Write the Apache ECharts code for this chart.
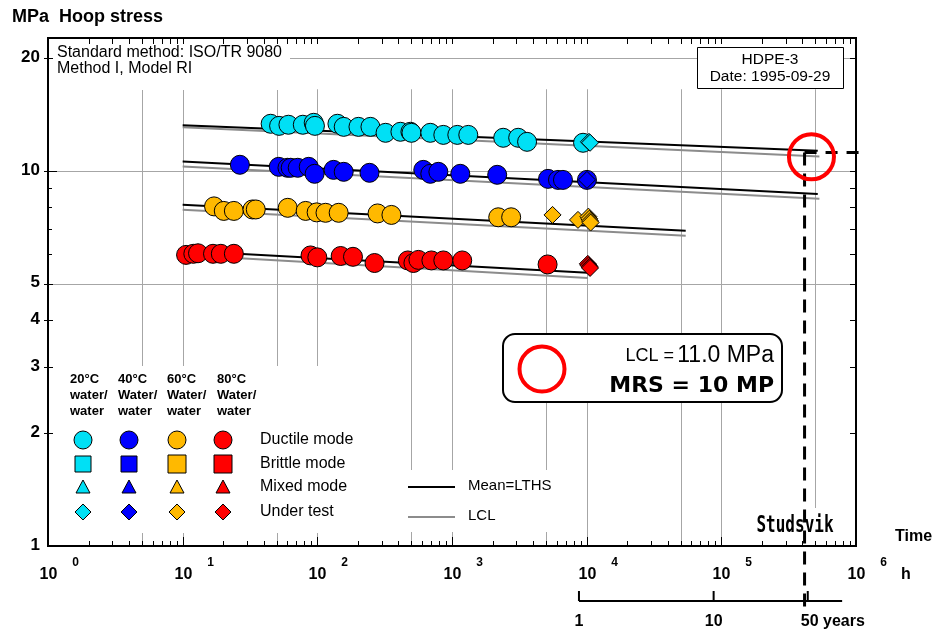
<!DOCTYPE html>
<html>
<head>
<meta charset="utf-8">
<script src="https://cdn.jsdelivr.net/npm/echarts/dist/echarts.min.js"></script>
<style>html,body{margin:0;padding:0;background:#fff}#c{width:938px;height:632px}</style>
</head>
<body>
<div id="c"></div>
<script>
// ---------------- DATA (hours, MPa) ----------------
const cyan20Ductile = [[45,13.35],[52,13.18],[61,13.27],[78,13.27],[94,13.43],[96,13.18],[141,13.35],[157,13.10],[202,13.10],[248,13.10],[321,12.63],[414,12.71],[491,12.71],[500,12.63],[690,12.63],[862,12.47],[1095,12.47],[1321,12.47],[2400,12.25],[3100,12.25],[3610,11.95],[9400,11.88]];
const cyan20Test = [[10400,11.95],[10600,11.88]];
const blue40Ductile = [[26.6,10.38],[51.7,10.25],[60,10.19],[63.4,10.19],[71.5,10.19],[86.3,10.25],[95.5,9.82],[132,10.06],[157,9.94],[244,9.88],[612,10.06],[690,9.82],[792,9.94],[1152,9.82],[2166,9.76],[5166,9.52],[6124,9.46],[6668,9.46],[10050,9.46]];
const blue40Test = [[10050,9.46]];
const orange60Ductile = [[17.1,8.04],[20.2,7.82],[24.0,7.82],[33,7.89],[34.9,7.89],[60.3,7.97],[81.9,7.82],[98.8,7.75],[115,7.73],[144,7.73],[280,7.70],[355,7.63],[2204,7.52],[2750,7.52]];
const orange60Test = [[5580,7.63],[8620,7.40],[10300,7.55],[10450,7.45],[10600,7.35],[10700,7.28]];
const red80Ductile = [[10.6,5.97],[12.0,6.01],[13.0,6.03],[16.8,6.01],[19.2,6.01],[24.0,6.01],[89,5.95],[100,5.88],[149,5.93],[184,5.90],[266,5.68],[470,5.77],[517,5.68],[563,5.79],[703,5.77],[862,5.77],[1191,5.77],[5126,5.63]];
const red80Test = [[10200,5.65],[10350,5.60],[10500,5.55],[10600,5.51]];

const mean20 = [[10,13.22],[5.2e5,11.31]];
const lcl20  = [[10,13.06],[5.35e5,10.92]];
const mean40 = [[10,10.59],[5.2e5,8.67]];
const lcl40  = [[10,10.27],[5.35e5,8.42]];
const mean60 = [[10,8.12],[5.44e4,6.92]];
const lcl60  = [[10,7.87],[5.44e4,6.71]];
const mean80 = [[10,6.12],[1.02e4,5.35]];
const lcl80  = [[10,5.97],[1.02e4,5.18]];

const designPoint = [4.15e5, 11.2];      // dashed cross (h, MPa)
const lclMarker = [4.67e5, 10.9];        // red circle (h, MPa)

const xDecades = [1,10,100,1000,10000,100000,1000000];
const xExponents = ['0','1','2','3','4','5','6'];
const xMinorMult = [2,3,4,5,6,7,8,9];
const xGridValues = [5,10,50,100,500,1000,5000,10000,50000,100000,500000];
const yGridValues = [5,10,20];
const yTickLabels = [1,2,3,4,5,10,20];
const yMinorTicks = [6,7,8,9];
const yRightTicks = [2,3,4,5,6,7,8,9,10,20];
const hoursPerYear = 8766;
const yearTicks = [1,10,50];
const yearTickLabels = ['1','10','50 years'];
const yearAxisEnd = 90;

const X_MIN = 1, X_MAX = 1e6, Y_MIN = 1, Y_MAX = 22.6, V_GRID_TOP = 16.5;

// ---------------- STYLE ----------------
const FONT = "'Liberation Sans', Arial, sans-serif";
const C_CYAN = '#00E0F5', C_BLUE = '#0000FF', C_ORANGE = '#FFB900', C_RED = '#FF0000';
const C_GRID = '#a6a6a6', C_LCL = '#8c8c8c';

function ductile(name, data, color){
  return {name, type:'scatter', data, symbol:'circle', symbolSize:19, z:6, silent:true,
    itemStyle:{color, borderColor:'#000', borderWidth:1, opacity:1}};
}
function underTest(name, data, color){
  return {name, type:'scatter', data, symbol:'diamond', symbolSize:17, z:7, silent:true,
    itemStyle:{color, borderColor:'#000', borderWidth:1, opacity:1}};
}
function regLine(name, data, color, z){
  return {name, type:'line', data, symbol:'none', z, silent:true, lineStyle:{color, width:2}};
}

const gridSeries = {
  type:'custom', z:1, silent:true, clip:false, data:[[1,1]],
  renderItem(params, api){
    const ch = [];
    xGridValues.forEach(v => {
      const a = api.coord([v, Y_MIN]), b = api.coord([v, V_GRID_TOP]);
      const x = Math.round(a[0]) + 0.5;
      ch.push({type:'line', shape:{x1:x, y1:a[1], x2:x, y2:b[1]}, style:{stroke:C_GRID, lineWidth:1}});
    });
    yGridValues.forEach(v => {
      const a = api.coord([X_MIN, v]), b = api.coord([X_MAX, v]);
      const y = Math.round(a[1]) + 0.5;
      ch.push({type:'line', shape:{x1:a[0], y1:y, x2:b[0], y2:y}, style:{stroke:C_GRID, lineWidth:1}});
    });
    return {type:'group', children:ch};
  }
};

const frameSeries = {
  type:'custom', z:20, silent:true, clip:false, data:[[1,1]],
  renderItem(params, api){
    const ch = [];
    const lb = api.coord([X_MIN, Y_MIN]), rt = api.coord([X_MAX, Y_MAX]);
    const L = lb[0], B = lb[1], R = rt[0], T = rt[1];
    const ln = (x1,y1,x2,y2,w,col) => ch.push({type:'line', shape:{x1,y1,x2,y2}, style:{stroke:col||'#000', lineWidth:w||1}});
    const tx = (text,x,y,font,align,va) => ch.push({type:'text', style:{text, x, y, font, fill:'#000', align:align||'center', verticalAlign:va||'middle'}});
    xDecades.forEach((d, i) => {
      const x = Math.round(api.coord([d, Y_MIN])[0]) + 0.5;
      if (i > 0 && i < xDecades.length - 1) { ln(x, B, x, B - 9); ln(x, T, x, T + 6); }
      tx('10', x, B + 29, 'bold 16px ' + FONT);
      tx(xExponents[i], x + 27, B + 17, 'bold 12px ' + FONT);
      if (i < xDecades.length - 1) {
        xMinorMult.forEach(m => {
          const xm = Math.round(api.coord([d * m, Y_MIN])[0]) + 0.5;
          ln(xm, B, xm, B - 5); ln(xm, T, xm, T + 6);
        });
      }
    });
    tx('h', R + 50, B + 29, 'bold 16px ' + FONT);
    yTickLabels.forEach(v => {
      const y = api.coord([X_MIN, v])[1];
      tx(String(v), L - 8, y - 1, 'bold 17px ' + FONT, 'right');
      if (v !== 1) ln(L - 4, Math.round(y) + 0.5, L + (v === 10 ? 9 : 5), Math.round(y) + 0.5);
    });
    yMinorTicks.forEach(v => {
      const y = Math.round(api.coord([X_MIN, v])[1]) + 0.5;
      ln(L, y, L + 4, y);
    });
    yRightTicks.forEach(v => {
      const y = Math.round(api.coord([X_MAX, v])[1]) + 0.5;
      ln(R - 6, y, R, y);
    });
    // years axis
    const yy = B + 55;
    const xs = api.coord([yearTicks[0] * hoursPerYear, Y_MIN])[0];
    const xe = api.coord([yearAxisEnd * hoursPerYear, Y_MIN])[0];
    ln(xs, yy, xe, yy, 2);
    yearTicks.forEach((yr, i) => {
      const x = api.coord([yr * hoursPerYear, Y_MIN])[0];
      ln(x, yy, x, yy - 10, 2);
      if (i === yearTicks.length - 1) tx(yearTickLabels[i], x - 7, B + 76, 'bold 16px ' + FONT, 'left');
      else tx(yearTickLabels[i], x, B + 76, 'bold 16px ' + FONT);
    });
    return {type:'group', children:ch};
  }
};

const designSeries = {
  type:'custom', z:8, silent:true, clip:false, data:[designPoint],
  renderItem(params, api){
    const p = api.coord([api.value(0), api.value(1)]);
    const bottom = api.coord([api.value(0), Y_MIN])[1] + 63;
    const right = api.coord([X_MAX, api.value(1)])[0] + 9;
    return {type:'group', children:[
      {type:'line', shape:{x1:p[0], y1:p[1], x2:p[0], y2:bottom}, style:{stroke:'#000', lineWidth:3, lineDash:[13,8]}},
      {type:'line', shape:{x1:p[0], y1:p[1], x2:right, y2:p[1]}, style:{stroke:'#000', lineWidth:3, lineDash:[12,9]}}
    ]};
  }
};

const markerSeries = {
  type:'custom', z:9, silent:true, clip:false, data:[lclMarker],
  renderItem(params, api){
    const p = api.coord([api.value(0), api.value(1)]);
    return {type:'circle', shape:{cx:p[0], cy:p[1], r:22.5}, style:{fill:'none', stroke:C_RED, lineWidth:4}};
  }
};

// ---------------- LEGEND / ANNOTATIONS ----------------
const colX = [83,129,177,223];
const headX = [70,118,167,217];
const headers = ['20°C\nwater/\nwater','40°C\nWater/\nwater','60°C\nWater/\nwater','80°C\nWater/\nwater'];
const colColors = [C_CYAN, C_BLUE, C_ORANGE, C_RED];
const rowY = [440,464,487,512];
const rowLabels = ['Ductile mode','Brittle mode','Mixed mode','Under test'];

const g = [];
g.push({type:'text', x:12, y:8, z:10, style:{text:'MPa  Hoop stress', font:'bold 18px ' + FONT, fill:'#000'}});
g.push({type:'rect', z:3, shape:{x:50, y:40, width:240, height:50}, style:{fill:'#fff'}});
g.push({type:'text', x:57, y:45, z:10, style:{text:'Standard method: ISO/TR 9080\nMethod I, Model RI', font:'16px ' + FONT, lineHeight:16, fill:'#000'}});
g.push({type:'rect', z:3, shape:{x:697.5, y:47.5, width:146, height:41}, style:{fill:'#fff', stroke:'#000', lineWidth:1}});
g.push({type:'text', x:770, y:51, z:10, style:{text:'HDPE-3\nDate: 1995-09-29', font:'15.5px ' + FONT, lineHeight:17, fill:'#000', align:'center'}});
// temperature legend
g.push({type:'rect', z:3, shape:{x:50, y:366, width:310, height:167}, style:{fill:'#fff'}});
headers.forEach((h, i) => g.push({type:'text', x:headX[i], y:371, z:10, style:{text:h, font:'bold 13px ' + FONT, lineHeight:16, fill:'#000'}}));
colColors.forEach((col, i) => {
  const cx = colX[i];
  const sq = i < 2 ? 8 : 9;
  g.push({type:'circle', z:10, shape:{cx, cy:rowY[0], r:9}, style:{fill:col, stroke:'#000', lineWidth:1}});
  g.push({type:'rect', z:10, shape:{x:cx - sq, y:rowY[1] - sq, width:2*sq, height:2*sq}, style:{fill:col, stroke:'#000', lineWidth:1}});
  g.push({type:'polygon', z:10, shape:{points:[[cx, rowY[2] - 7],[cx - 7, rowY[2] + 6],[cx + 7, rowY[2] + 6]]}, style:{fill:col, stroke:'#000', lineWidth:1}});
  g.push({type:'polygon', z:10, shape:{points:[[cx, rowY[3] - 8],[cx + 8, rowY[3]],[cx, rowY[3] + 8],[cx - 8, rowY[3]]]}, style:{fill:col, stroke:'#000', lineWidth:1}});
});
rowLabels.forEach((t, i) => g.push({type:'text', x:260, y:rowY[i], z:10, style:{text:t, font:'16px ' + FONT, fill:'#000', verticalAlign:'middle'}}));
// line legend
g.push({type:'rect', z:3, shape:{x:400, y:470, width:168, height:62}, style:{fill:'#fff'}});
g.push({type:'line', z:10, shape:{x1:408, y1:487, x2:455, y2:487}, style:{stroke:'#000', lineWidth:2}});
g.push({type:'text', x:468, y:486, z:10, style:{text:'Mean=LTHS', font:'15px ' + FONT, fill:'#000', verticalAlign:'middle'}});
g.push({type:'line', z:10, shape:{x1:408, y1:517, x2:455, y2:517}, style:{stroke:C_LCL, lineWidth:2}});
g.push({type:'text', x:468, y:516, z:10, style:{text:'LCL', font:'15px ' + FONT, fill:'#000', verticalAlign:'middle'}});
// LCL box
g.push({type:'rect', z:3, shape:{x:503, y:334, width:279, height:68, r:12}, style:{fill:'#fff', stroke:'#000', lineWidth:2}});
g.push({type:'circle', z:10, shape:{cx:542, cy:369, r:22.5}, style:{fill:'none', stroke:C_RED, lineWidth:4}});
g.push({type:'text', x:774, y:356, z:10, style:{text:'{a|LCL =} {b|11.0 MPa}', align:'right', verticalAlign:'middle', fill:'#000',
  rich:{a:{font:'18px ' + FONT, fill:'#000'}, b:{font:'23px ' + FONT, fill:'#000'}}}});
g.push({type:'text', x:774, y:386, z:10, style:{text:'MRS = 10 MP', font:"bold 22px 'DejaVu Sans', sans-serif", fill:'#000', align:'right', verticalAlign:'middle'}});
// logo
g.push({type:'rect', z:3, shape:{x:748, y:508, width:94, height:33}, style:{fill:'#fff'}});
g.push({type:'text', x:795, y:526, z:4, scaleY:1.45, style:{text:'Studsvik', x:0, y:0, font:"bold 16px 'DejaVu Sans Mono', monospace", fill:'#000', align:'center', verticalAlign:'middle'}});
g.push({type:'text', x:895, y:537, z:10, style:{text:'Time', font:'bold 16px ' + FONT, fill:'#000', verticalAlign:'middle'}});

const chart = echarts.init(document.getElementById('c'), null, {renderer:'canvas'});
chart.setOption({
  animation:false,
  backgroundColor:'#fff',
  grid:{left:48, right:82, top:38, bottom:86, show:true, borderColor:'#000', borderWidth:2, backgroundColor:'transparent'},
  xAxis:{type:'log', logBase:10, min:X_MIN, max:X_MAX, axisLine:{show:false}, axisTick:{show:false}, axisLabel:{show:false}, splitLine:{show:false}},
  yAxis:{type:'log', logBase:10, min:Y_MIN, max:Y_MAX, axisLine:{show:false}, axisTick:{show:false}, axisLabel:{show:false}, splitLine:{show:false}},
  graphic:g,
  series:[
    gridSeries,
    regLine('LCL 20', lcl20, C_LCL, 4), regLine('Mean 20', mean20, '#000', 5),
    regLine('LCL 40', lcl40, C_LCL, 4), regLine('Mean 40', mean40, '#000', 5),
    regLine('LCL 60', lcl60, C_LCL, 4), regLine('Mean 60', mean60, '#000', 5),
    regLine('LCL 80', lcl80, C_LCL, 4), regLine('Mean 80', mean80, '#000', 5),
    ductile('20°C ductile', cyan20Ductile, C_CYAN), underTest('20°C under test', cyan20Test, C_CYAN),
    ductile('40°C ductile', blue40Ductile, C_BLUE), underTest('40°C under test', blue40Test, C_BLUE),
    ductile('60°C ductile', orange60Ductile, C_ORANGE), underTest('60°C under test', orange60Test, C_ORANGE),
    ductile('80°C ductile', red80Ductile, C_RED), underTest('80°C under test', red80Test, C_RED),
    designSeries, markerSeries, frameSeries
  ]
});
</script>
</body>
</html>
